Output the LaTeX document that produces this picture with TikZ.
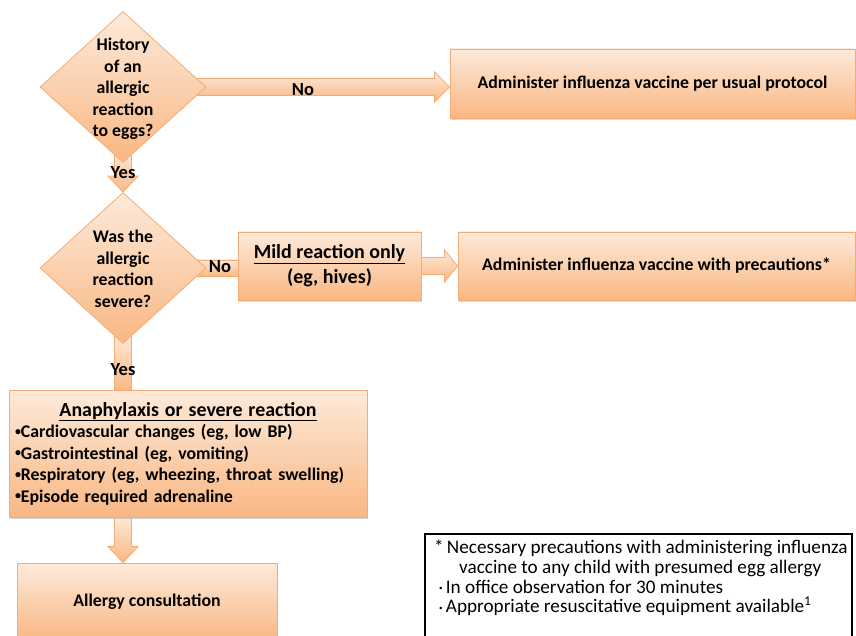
\documentclass[tikz,border=0pt]{standalone}
\usepackage{fontspec}
\setmainfont{Carlito}
\usetikzlibrary{shapes.geometric,calc,backgrounds,shadows}

\definecolor{peachtop}{RGB}{253,234,218}
\definecolor{peachbot}{RGB}{249,183,131}
\definecolor{peachline}{RGB}{245,172,116}

\tikzset{
	peach/.style={draw=peachline, line width=0.8pt, top color=peachtop, bottom color=peachbot},
	box/.style={peach, rectangle, inner sep=4pt, align=center,
		font=\bfseries\fontsize{17.8}{21.5}\selectfont,
		drop shadow={shadow xshift=1.2pt, shadow yshift=-2pt, opacity=0.3}},
	decision/.style={peach, diamond, minimum width=166, minimum height=151, inner sep=0pt},
	qtext/.style={align=center, font=\bfseries\fontsize{17.8}{21.5}\selectfont},
	answer/.style={font=\bfseries\fontsize{18.5}{20}\selectfont, inner sep=1pt},
	notebox/.style={draw=black, line width=1.5pt, fill=white, rectangle},
	notetext/.style={align=left, inner sep=0pt, font=\fontsize{19.2}{19.7}\selectfont}
}
\newcommand{\smallbul}{\raisebox{0.3ex}{\scriptsize\textbullet}}
\newcommand{\boxbul}{\raisebox{0.3ex}{\fontsize{12}{12}\selectfont\textbullet}}

\begin{document}
\begin{tikzpicture}[x=1pt,y=-1pt]
		\useasboundingbox (0,0) rectangle (856,636);
		\clip (0,0) rectangle (856,636);
		% decisions
		\node[decision, label={[qtext, yshift=-2pt]center:{History\\of an\\allergic\\reaction\\to eggs?}}] (hist) at (123,87) {};
		\node[decision, label={[qtext, yshift=-1pt]center:{Was the\\allergic\\reaction\\severe?}}] (sev) at (123,268) {};
		% boxes
		\node[box, minimum width=405, minimum height=69] (usual) at (652.5,83.5) {Administer influenza vaccine per usual protocol};
		\node[box, minimum width=183, minimum height=68, font=\bfseries\fontsize{20}{25}\selectfont] (mild) at (329.5,266) {\underline{Mild reaction only}\\(eg, hives)};
		\node[box, minimum width=397, minimum height=68] (prec) at (656.5,266) {Administer influenza vaccine with precautions*};
		\node[box, minimum width=358, minimum height=127, text width=346, align=left] (ana) at (188,453.5)
			{{\centering\fontsize{19.9}{23}\selectfont\underline{Anaphylaxis or severe reaction}\par}
			\boxbul Cardiovascular changes (eg, low BP)\\
			\boxbul Gastrointestinal (eg, vomiting)\\
			\boxbul Respiratory (eg, wheezing, throat swelling)\\
			\boxbul Episode required adrenaline};
		\node[box, minimum width=260, minimum height=78] (consult) at (147,602) {Allergy consultation};
		% block arrows behind the shapes
		\begin{pgfonlayer}{background}
			\coordinate (a1e) at (usual.west |- hist.east);
			\path[peach] ($(hist.east)+(-12,-8.5)$) -- ($(a1e)+(-15,-8.5)$) -- ($(a1e)+(-15,-15)$) -- (a1e)
				-- ($(a1e)+(-15,15)$) -- ($(a1e)+(-15,8.5)$) -- ($(hist.east)+(-12,8.5)$) -- cycle;
			\path[peach] ($(hist.south)+(-8.5,-12)$) -- ($(sev.north)+(-8.5,-16)$) -- ($(sev.north)+(-15,-16)$) -- (sev.north)
				-- ($(sev.north)+(15,-16)$) -- ($(sev.north)+(8.5,-16)$) -- ($(hist.south)+(8.5,-12)$) -- cycle;
			\path[peach] ($(sev.east)+(-12,-8)$) rectangle ($(mild.west |- sev.east)+(2,8)$);
			\path[peach] ($(mild.east)+(-2,-8.5)$) -- ($(prec.west)+(-13,-8.5)$) -- ($(prec.west)+(-13,-16)$) -- (prec.west)
				-- ($(prec.west)+(-13,16)$) -- ($(prec.west)+(-13,8.5)$) -- ($(mild.east)+(-2,8.5)$) -- cycle;
			\path[peach] ($(sev.south)+(-8.5,-12)$) rectangle ($(ana.north -| sev.south)+(8.5,2)$);
			\coordinate (a4s) at (ana.south -| sev.south);
			\coordinate (a4e) at (consult.north -| sev.south);
			\path[peach] ($(a4s)+(-8.5,-2)$) -- ($(a4e)+(-8.5,-16)$) -- ($(a4e)+(-15,-16)$) -- (a4e)
				-- ($(a4e)+(15,-16)$) -- ($(a4e)+(8.5,-16)$) -- ($(a4s)+(8.5,-2)$) -- cycle;
		\end{pgfonlayer}
		% answers
		\node[answer] (no1) at (303,90) {No};
		\node[answer] (yes1) at (123,173) {Yes};
		\node[answer] (no2) at (220,267) {No};
		\node[answer] (yes2) at (123,370) {Yes};
		% footnote
		\node[notebox, anchor=north west, minimum width=427, minimum height=130] (note) at (424,533) {};
		\node[notetext, anchor=north west] (notetxt) at ($(note.north west)+(10,7)$)
			{*\,Necessary precautions with administering influenza\\
			\hspace*{25pt}vaccine to any child with presumed egg allergy\\
			\hspace*{5pt}\smallbul\,In office observation for 30 minutes\\
			\hspace*{5pt}\smallbul\,Appropriate resuscitative equipment available\textsuperscript{1}};
	\end{tikzpicture}
\end{document}
